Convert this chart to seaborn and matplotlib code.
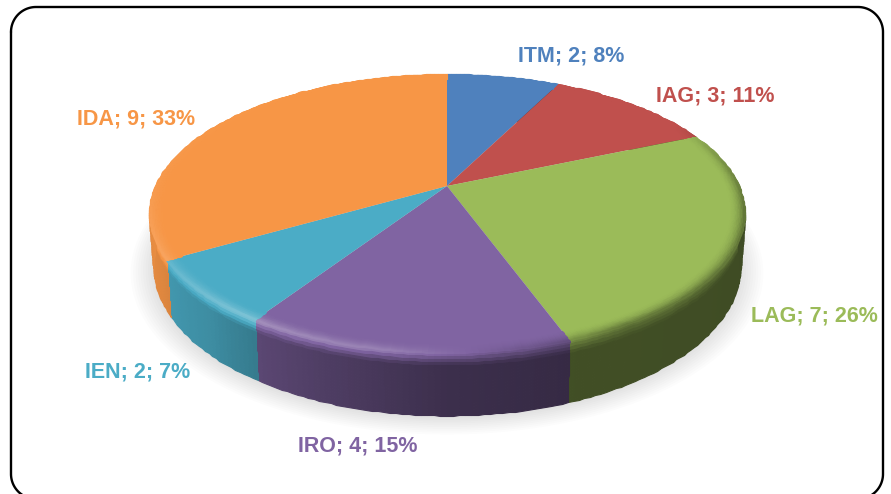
import numpy as np
import seaborn as sns
import matplotlib.pyplot as plt
from matplotlib.transforms import Transform

categories = ['ITM', 'IAG', 'LAG', 'IRO', 'IEN', 'IDA']
counts = [2, 3, 7, 4, 2, 9]
percents = [8, 11, 26, 15, 7, 33]
hex_colors = ['#4F81BD', '#C0504D', '#9BBB59', '#8064A2', '#4BACC6', '#F79646']

# label centres in pixels
label_x = [571.5, 715, 814.5, 357.5, 138, 136.5]
label_y = [56, 96, 316, 446, 372, 119]

sns.set_theme(style='white')
plt.rcParams['font.family'] = ['Liberation Sans', 'DejaVu Sans']


def project(X, Y, t=0.0):
    # unit disc -> picture, t=1 is the underside of the pie
    w = 1 + 0.197 * Y
    x = 447 + 292 * X / w * (1 - 0.015 * t)
    y = 186 + 51 * t - 134 * Y / w * (1 + 0.07 * t)
    return x, y


class PiePerspective(Transform):
    input_dims = 2
    output_dims = 2
    is_separable = False

    def transform_non_affine(self, values):
        values = np.asarray(values)
        x, y = project(values[:, 0], values[:, 1])
        return np.column_stack([x, y])


def shade(color, m):
    color = np.asarray(color)
    m = m[..., None]
    return np.where(m < 1, color * m, color + (1 - color) * (m - 1))


def rim_light(theta):
    return np.interp(theta, [0, 60, 80, 100, 150, 170, 190, 215, 240, 270, 300, 360],
                     [1, 1, 0.75, 0.6, 0.62, 0.9, 1.2, 1.3, 1.15, 1.04, 1.01, 1])


def side_light(theta):
    return np.interp(theta, [0, 90, 160, 180, 212, 225, 245, 270, 360],
                     [0.4, 0.4, 0.42, 0.47, 0.7, 0.82, 0.9, 0.95, 0.95])


def band_mesh(ax, start, end, color, s, zorder):
    # s 0..1 is the bevel on the top face, s 1..2 the side wall
    theta = np.linspace(start, end, max(int(end - start), 8) + 1)
    tt, ss = np.meshgrid(np.radians(theta), s)
    r = np.where(ss < 1, 0.95 + 0.05 * ss, 1.0)
    t = np.where(ss < 1, 0.0, ss - 1)
    x, y = project(r * np.sin(tt), r * np.cos(tt), t)

    th_c, s_c = np.meshgrid(0.5 * (theta[:-1] + theta[1:]), 0.5 * (s[:-1] + s[1:]))
    rim = rim_light(th_c)
    wall = side_light(th_c)
    m = np.where(s_c < 1, 1 + (rim - 1) * s_c ** 2,
                 np.where(s_c < 1.2, rim + (wall - rim) * (s_c - 1) / 0.2, wall))
    rgb = np.clip(shade(color, m), 0, 1)
    ax.pcolormesh(x, y, rgb, shading='flat', edgecolors='face', linewidth=0.8,
                  antialiased=True, zorder=zorder)


def main():
    palette = sns.color_palette(hex_colors)
    fig = plt.figure(figsize=(8.91, 4.94), dpi=100)
    ax = fig.add_axes([0, 0, 1, 1])

    # top face through pie(), bent by the perspective transform
    wedges, _ = ax.pie(counts, colors=palette, startangle=90, counterclock=False, radius=0.97)
    persp = PiePerspective()
    for wedge in wedges:
        wedge.set_transform(persp + ax.transData)
        wedge.set_zorder(4)
        wedge.set_linewidth(0)

    ax.set_aspect('auto')
    ax.set_xlim(0, 891)
    ax.set_ylim(494, 0)
    ax.set_axis_off()

    # soft shadow below the pie, stacked see-through discs
    rad = np.radians(np.linspace(0, 360, 361))
    for rr in np.linspace(1.075, 0.97, 14):
        sx, sy = project(rr * np.sin(rad), rr * np.cos(rad), 1.0)
        ax.fill(sx, sy + 2, color='black', alpha=0.011, lw=0, zorder=1)

    # side wall under the face, bevel over it
    edges = np.concatenate([[0], np.cumsum(counts)]) / np.sum(counts) * 360
    for i in range(len(counts)):
        band_mesh(ax, edges[i], edges[i + 1], palette[i], np.linspace(1, 2, 21), 3)
        band_mesh(ax, edges[i], edges[i + 1], palette[i], np.linspace(0, 1, 11), 5)

    # rounded box, runs off the bottom of the picture
    a = np.radians(np.linspace(0, 90, 30))
    left, right, top, bottom, r = 11, 883, 7, 499, 25
    frame_x = np.concatenate([left + r - r * np.cos(a), right - r + r * np.sin(a),
                              right - r + r * np.cos(a), left + r - r * np.sin(a), [left]])
    frame_y = np.concatenate([top + r - r * np.sin(a), top + r - r * np.cos(a),
                              bottom - r + r * np.sin(a), bottom - r + r * np.cos(a), [top + r]])
    ax.plot(frame_x, frame_y, color='black', lw=1.7, zorder=6)

    for i, name in enumerate(categories):
        ax.text(label_x[i], label_y[i], f'{name}; {counts[i]}; {percents[i]}%',
                color=hex_colors[i], fontsize=15.5, fontweight='bold',
                ha='center', va='center', zorder=7)

    fig.savefig('out.png', dpi=100, facecolor='white')
    plt.close(fig)


if __name__ == '__main__':
    main()
